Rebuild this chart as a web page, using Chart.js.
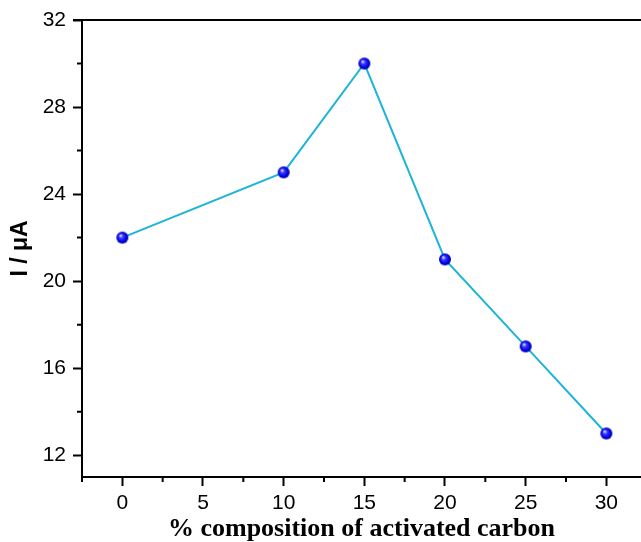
<!DOCTYPE html>
<html>
<head>
<meta charset="utf-8">
<script src="https://cdn.jsdelivr.net/npm/chart.js@4/dist/chart.umd.min.js"></script>
<style>
  html, body { margin: 0; padding: 0; background: #fff; overflow: hidden; }
  #wrap { width: 641px; height: 542px; position: relative; }
</style>
</head>
<body>
<div id="wrap"><canvas id="c" width="641" height="542"></canvas></div>
<script>
const composition = [0, 10, 15, 20, 25, 30];
const current     = [22, 25, 30, 21, 17, 13];
const xTicks = [0, 5, 10, 15, 20, 25, 30];
const yTicks = [12, 16, 20, 24, 28, 32];
const xMinor = [-2.5, 2.5, 7.5, 12.5, 17.5, 22.5, 27.5];
const yMinor = [14, 18, 22, 26, 30];

// shaded blue ball marker
function makeBall(r) {
  const cv = document.createElement("canvas");
  const s = r * 2 + 2;
  cv.width = s; cv.height = s;
  const g = cv.getContext("2d");
  const cx = s / 2, cy = s / 2;
  const grad = g.createRadialGradient(cx - r * 0.3, cy - r * 0.35, 0.5, cx, cy, r);
  grad.addColorStop(0, "#d8d8ff");
  grad.addColorStop(0.3, "#3a3aff");
  grad.addColorStop(0.75, "#0000e6");
  grad.addColorStop(1, "#00009a");
  g.fillStyle = grad;
  g.beginPath();
  g.arc(cx, cy, r, 0, Math.PI * 2);
  g.fill();
  return cv;
}

const MAJOR = 9, MINOR = 5;

const frame = {
  id: "frame",
  afterDraw(chart) {
    const { ctx, chartArea: a, scales: { x, y } } = chart;
    ctx.save();
    ctx.strokeStyle = "#000";
    ctx.lineWidth = 2;
    ctx.beginPath();
    // top border
    ctx.moveTo(a.left - MAJOR, a.top);
    ctx.lineTo(chart.width, a.top);
    xMinor.forEach(v => {
      const px = x.getPixelForValue(v);
      ctx.moveTo(px, a.bottom);
      ctx.lineTo(px, a.bottom + MINOR);
    });
    yMinor.forEach(v => {
      const py = y.getPixelForValue(v);
      ctx.moveTo(a.left, py);
      ctx.lineTo(a.left - MINOR, py);
    });
    ctx.stroke();
    ctx.restore();
  }
};

new Chart(document.getElementById("c"), {
  type: "line",
  data: {
    datasets: [{
      data: composition.map((v, i) => ({ x: v, y: current[i] })),
      borderColor: "#1cb5d6",
      borderWidth: 2,
      pointStyle: makeBall(6),
      pointRadius: 6,
      fill: false,
      tension: 0,
      clip: false,
    }],
  },
  options: {
    responsive: false,
    animation: false,
    layout: { autoPadding: false, padding: { top: 20, right: 0, left: 0, bottom: 0 } },
    plugins: { legend: { display: false }, tooltip: { enabled: false } },
    scales: {
      x: {
        type: "linear",
        min: -2.5,
        max: 32.15,
        afterBuildTicks: s => { s.ticks = xTicks.map(v => ({ value: v })); },
        afterFit: s => { s.height = 65; s.paddingLeft = 0; s.paddingRight = 0; },
        border: { display: true, color: "#000", width: 2 },
        grid: { drawOnChartArea: false, tickLength: MAJOR, tickColor: "#000", tickWidth: 2 },
        ticks: {
          color: "#000",
          padding: 5,
          maxRotation: 0,
          font: { family: "'Liberation Sans', Arial, sans-serif", size: 21 },
        },
        title: {
          display: true,
          text: "% composition of activated carbon",
          color: "#000",
          padding: { top: 0, bottom: 0 },
          font: { family: "'Liberation Serif', 'Times New Roman', serif", size: 26, weight: "bold", lineHeight: 1 },
        },
      },
      y: {
        type: "linear",
        min: 11,
        max: 32,
        afterBuildTicks: s => { s.ticks = yTicks.map(v => ({ value: v })); },
        afterFit: s => { s.width = 82; },
        border: { display: true, color: "#000", width: 2 },
        grid: { drawOnChartArea: false, tickLength: MAJOR, tickColor: "#000", tickWidth: 2 },
        ticks: {
          color: "#000",
          padding: 7,
          font: { family: "'Liberation Sans', Arial, sans-serif", size: 21 },
        },
        title: {
          display: true,
          text: "I / \u03bcA",
          color: "#000",
          padding: { top: 7, bottom: 0 },
          font: { family: "'Liberation Sans', Arial, sans-serif", size: 23, weight: "bold" },
        },
      },
    },
  },
  plugins: [frame],
});
</script>
</body>
</html>
